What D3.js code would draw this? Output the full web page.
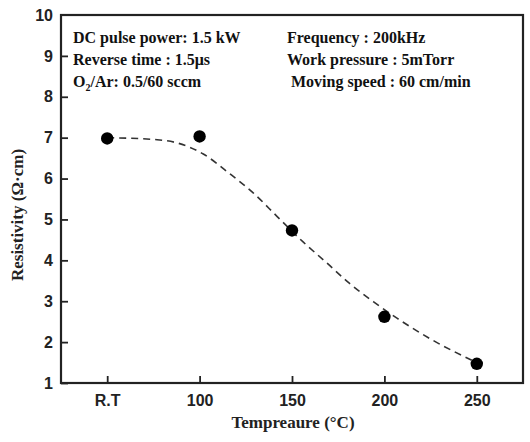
<!DOCTYPE html>
<html>
<head>
<meta charset="UTF-8">
<title>Resistivity vs temperature</title>
<script src="https://d3js.org/d3.v7.min.js"></script>
<style>
  body { margin: 0; background: #fff; }
  .tick text { font-family: 'Liberation Sans', Arial, sans-serif; font-weight: bold; font-size: 16px; fill: #222; }
  .title { font-family: 'Liberation Serif', 'Times New Roman', serif; font-weight: bold; fill: #222; }
  .note { font-family: 'Liberation Serif', 'Times New Roman', serif; font-weight: bold; font-size: 16px; fill: #111; }
</style>
</head>
<body>
<div id="chart"></div>
<script>
// 温度（R.T 按 50 放置，方便等间距）
const temps = [50, 100, 150, 200, 250];
const tempLabels = ['R.T', '100', '150', '200', '250'];
const resistivity = [6.98, 7.03, 4.73, 2.62, 1.47];

// 虚线拟合曲线
const fitTemps = [50, 77, 88, 102, 116, 129, 142, 156, 169, 181, 194, 207, 226, 250];
const fitValues = [7.0, 6.95, 6.87, 6.6, 6.13, 5.65, 5.07, 4.45, 3.93, 3.44, 2.99, 2.58, 2.05, 1.5];

const yTicks = [1, 2, 3, 4, 5, 6, 7, 8, 9, 10];

const notesLeft = ['DC pulse power: 1.5 kW', 'Reverse time : 1.5\u03bcs', null];
const notesRight = ['Frequency : 200kHz', 'Work pressure : 5mTorr', ' Moving speed : 60 cm/min'];

const width = 530, height = 442;
const m = { left: 61, right: 7, top: 15, bottom: 59 };

const svg = d3.select('#chart').append('svg')
  .attr('width', width)
  .attr('height', height);

const x = d3.scaleLinear().domain([25, 275]).range([m.left, width - m.right]);
const y = d3.scaleLinear().domain([1, 10]).range([height - m.bottom, m.top]);

// 坐标轴
const xAxis = svg.append('g')
  .attr('transform', `translate(0,${height - m.bottom})`)
  .call(d3.axisBottom(x).tickValues(temps)
    .tickFormat((d, i) => tempLabels[i])
    .tickSizeInner(-7).tickSizeOuter(0).tickPadding(12));

const yAxis = svg.append('g')
  .attr('transform', `translate(${m.left},0)`)
  .call(d3.axisLeft(y).tickValues(yTicks)
    .tickSizeInner(-7).tickSizeOuter(0).tickPadding(8));

[xAxis, yAxis].forEach(g => {
  g.select('.domain').remove();
  g.selectAll('.tick line').attr('stroke', '#222').attr('stroke-width', 1.8);
});
yAxis.selectAll('.tick').filter(d => d === 10).select('line').remove();

// 边框
svg.append('rect')
  .attr('x', m.left).attr('y', m.top)
  .attr('width', width - m.left - m.right)
  .attr('height', height - m.top - m.bottom)
  .attr('fill', 'none')
  .attr('stroke', '#222')
  .attr('stroke-width', 2.2);

// 拟合曲线
const line = d3.line()
  .x((d, i) => x(fitTemps[i]))
  .y(d => y(d))
  .curve(d3.curveMonotoneX);

svg.append('path')
  .datum(fitValues)
  .attr('d', line)
  .attr('fill', 'none')
  .attr('stroke', '#333')
  .attr('stroke-width', 1.6)
  .attr('stroke-dasharray', '7,5');

// 数据点
svg.append('g')
  .selectAll('circle')
  .data(resistivity)
  .enter().append('circle')
  .attr('cx', (d, i) => x(temps[i]))
  .attr('cy', d => y(d))
  .attr('r', 6.2)
  .attr('fill', '#000');

// 轴标题
svg.append('text')
  .attr('class', 'title')
  .attr('x', 293).attr('y', 428)
  .attr('text-anchor', 'middle')
  .attr('font-size', 17)
  .text('Tempreaure (\u00b0C)');

svg.append('text')
  .attr('class', 'title')
  .attr('transform', 'translate(23,215) rotate(-90)')
  .attr('text-anchor', 'middle')
  .attr('font-size', 17)
  .text('Resistivity (\u03a9\u00b7cm)');

// 工艺条件说明
const rowsY = [43, 65, 87];
notesLeft.forEach((t, i) => {
  if (t) svg.append('text').attr('class', 'note').attr('x', 73).attr('y', rowsY[i]).text(t);
});
const o2 = svg.append('text').attr('class', 'note').attr('x', 73).attr('y', rowsY[2]);
o2.append('tspan').text('O');
o2.append('tspan').attr('font-size', 10).attr('dy', 4).text('2');
o2.append('tspan').attr('dy', -4).text('/Ar: 0.5/60 sccm');

notesRight.forEach((t, i) => {
  svg.append('text').attr('class', 'note')
    .attr('x', 287).attr('y', rowsY[i])
    .attr('xml:space', 'preserve')
    .style('white-space', 'pre')
    .text(t);
});
</script>
</body>
</html>
